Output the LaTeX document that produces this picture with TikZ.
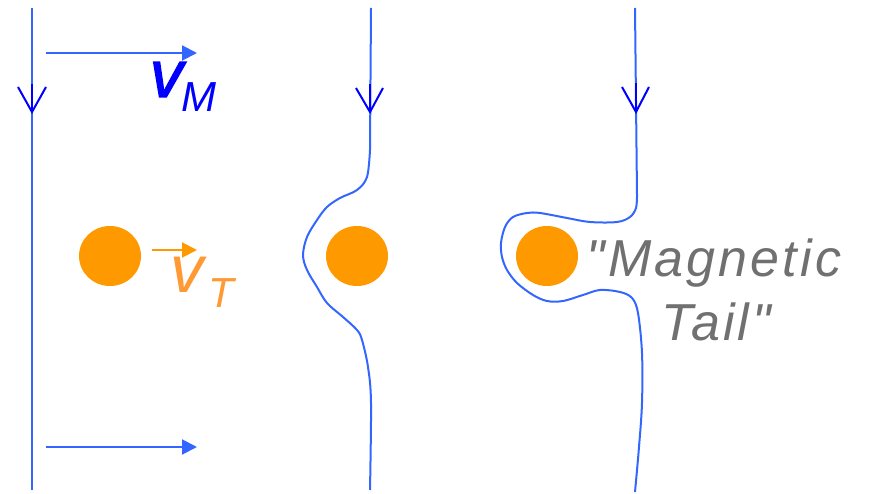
\documentclass[tikz,border=0pt]{standalone}
\usepackage{fontspec}
\setmainfont{Liberation Sans}[Ligatures=TeXOff]
\usetikzlibrary{arrows.meta,shapes.geometric}
\definecolor{fieldblue}{HTML}{3366FF}
\definecolor{headblue}{HTML}{0000FF}
\definecolor{disk}{HTML}{FF9900}
\definecolor{vtcol}{HTML}{FF9933}
\definecolor{tailgray}{HTML}{707070}
\tikzset{
  fieldline/.style={draw=fieldblue, line width=2pt, line join=round},
  vhead/.style={draw=headblue, line width=2pt},
  flowarrow/.style={draw=fieldblue, line width=2pt, -{Triangle[length=15pt,width=15pt]}},
  disknode/.style={ellipse, fill=disk, minimum width=62pt, minimum height=60pt, inner sep=0pt},
  lbl/.style={anchor=base west, inner sep=0pt, outer sep=0pt},
  taillbl/.style={anchor=base, inner sep=0pt, text=tailgray, font=\fontsize{52}{52}\selectfont\itshape\addfontfeature{LetterSpace=6}},
}
\begin{document}
\begin{tikzpicture}[x=1pt,y=-1pt]
\useasboundingbox (0,0) rectangle (870,494);
% coordinates
\coordinate (L1t) at (32,8);
\coordinate (L1b) at (32,490);
\coordinate (Atop1) at (46,53);
\coordinate (Atop2) at (197,53);
\coordinate (Abot1) at (46,447);
\coordinate (Abot2) at (197,447);
% left straight field line
\draw[fieldline, line width=2.8pt] (L1t) -- (L1b);
\draw[vhead] (18,87) -- (32,112) -- (46,87);
\draw[vhead] (32,84) -- (32,112);
% flow arrows
\draw[flowarrow] (Atop1) -- (Atop2);
\draw[flowarrow] (Abot1) -- (Abot2);
% v_M
\node[lbl, text=headblue, font=\fontsize{66}{66}\selectfont\itshape\addfontfeature{FakeBold=2}] (vm) at (150,97) {v};
\node[lbl, text=headblue, font=\fontsize{42}{42}\selectfont\itshape] (vmsub) at (181,112) {M};
% disks
\node[disknode] (d1) at (110,256) {};
\node[disknode] (d2) at (357,256) {};
\node[disknode] (d3) at (547,256) {};
% v_T
\coordinate (At1) at (152,250);
\coordinate (At2) at (197,250);
\draw[draw=disk, line width=2pt, -{Triangle[length=15pt,width=15pt]}] (At1) -- (At2);
\node[lbl, text=vtcol, font=\fontsize{67}{67}\selectfont\itshape] (vt) at (170,293) {v};
\node[lbl, text=vtcol, font=\fontsize{42}{42}\selectfont\itshape] (vtsub) at (208,308) {T};
% middle field line
\draw[fieldline] (371,8) -- (370,150) plot[smooth, tension=0.55] coordinates {
 (370,150) (367,177) (357,190) (340,198) (327,207) (317,220) (307,237) (303,255)
 (307,270) (317,287) (327,303) (343,317) (357,330) (362,340) (368,367) (371,403) (370,490)};
\draw[vhead] (356,88) -- (370,112) -- (383,88);
\draw[vhead] (370,84) -- (370,112);
% right field line
\draw[fieldline] (635,8) -- (637,195) plot[smooth, tension=0.55] coordinates {
 (637,195) (636,208) (630,217) (617,222) (590,222) (567,218) (540,213) (527,213)
 (513,217) (505,227) (501,243) (502,257) (507,270) (517,283) (533,295) (547,301)
 (563,301) (583,295) (600,290) (620,292) (632,298) (638,313) (642,353) (642,403)
 (639,447) (635,492)};
\draw[vhead] (622,87) -- (636,112) -- (649,87);
\draw[vhead] (636,83) -- (636,112);
% label
\node[taillbl] (mag) at (714,277) {"Magnetic};
\node[taillbl] (tail) at (716,340) {Tail"};
\end{tikzpicture}
\end{document}
